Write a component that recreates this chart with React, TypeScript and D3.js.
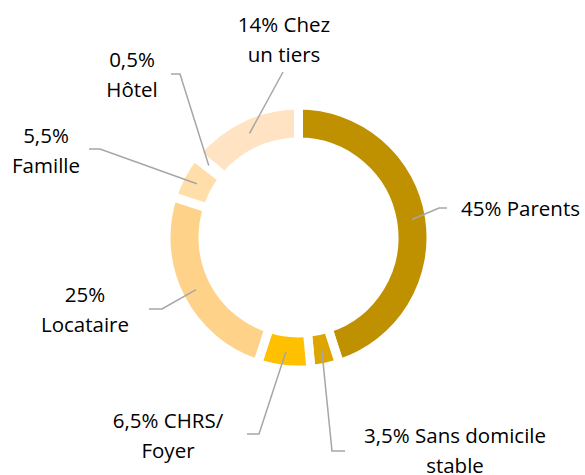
import React from "react";
import * as d3 from "d3";

const categories = ["Parents", "Sans domicile stable", "CHRS/ Foyer", "Locataire", "Famille", "Hôtel", "Chez un tiers"];
const values = [45, 3.5, 6.5, 25, 5.5, 0.5, 14];
const colors = ["#BF9000", "#DCA500", "#FFC000", "#FFD28A", "#FFDEAA", "#FFE6C6", "#FFE3C2"];

// layout (label placement), separate from the data
const W = 585, H = 475;
const cx = 298.5, cy = 237.5;
const rOuter = 132.5, rInner = 95.5, rLeader = 115;
const labelLayout = [
  { elbow: [439, 208], end: [447, 208], x: 461, y: 216, anchor: "start", firstLine: 99 },
  { elbow: [332, 451], end: [345, 451], x: 455, y: 443, anchor: "middle", firstLine: 3 },
  { elbow: [259, 434], end: [247, 434], x: 168, y: 428, anchor: "middle", firstLine: 2 },
  { elbow: [162, 309], end: [149, 309], x: 85, y: 302, anchor: "middle", firstLine: 1 },
  { elbow: [100, 149], end: [89, 149], x: 46, y: 143, anchor: "middle", firstLine: 1 },
  { elbow: [180, 74], end: [171, 74], x: 132, y: 67, anchor: "middle", firstLine: 1 },
  { elbow: null, end: [283, 72], x: 284, y: 32, anchor: "middle", firstLine: 2 },
];
const lineHeight = 29.5;

const fmt = (v: number) => String(v).replace(".", ",") + "%";

export default function App() {
  const pie = d3.pie<number>().sort(null).value((d) => d)(values);
  const arc = d3.arc<d3.PieArcDatum<number>>().innerRadius(rInner).outerRadius(rOuter);

  return (
    <svg width={W} height={H} style={{ position: "absolute", left: 0, top: 0, background: "#fff" }}>
      <g transform={`translate(${cx},${cy})`}>
        {pie.map((p, i) => (
          <path key={i} d={arc(p) || ""} fill={colors[i]} stroke="#fff" strokeWidth={9} />
        ))}
      </g>
      {pie.map((p, i) => {
        const L = labelLayout[i];
        const mid = (p.startAngle + p.endAngle) / 2;
        const sx = cx + Math.sin(mid) * rLeader;
        const sy = cy - Math.cos(mid) * rLeader;
        const pts = [[sx, sy], ...(L.elbow ? [L.elbow] : []), L.end];
        const words = (fmt(values[i]) + " " + categories[i]).split(" ");
        const lines = [words.slice(0, L.firstLine).join(" "), words.slice(L.firstLine).join(" ")].filter((s) => s.length);
        return (
          <g key={"l" + i}>
            <polyline points={pts.map((q) => q.join(",")).join(" ")} fill="none" stroke="#A6A6A6" strokeWidth={1.5} />
            <text
              x={L.x}
              y={L.y}
              textAnchor={L.anchor as any}
              fontFamily="'Open Sans', Lato, sans-serif"
              fontSize={20.5}
              fill="#000"
            >
              {lines.map((s, j) => (
                <tspan key={j} x={L.x} y={L.y + j * lineHeight}>
                  {s}
                </tspan>
              ))}
            </text>
          </g>
        );
      })}
    </svg>
  );
}
